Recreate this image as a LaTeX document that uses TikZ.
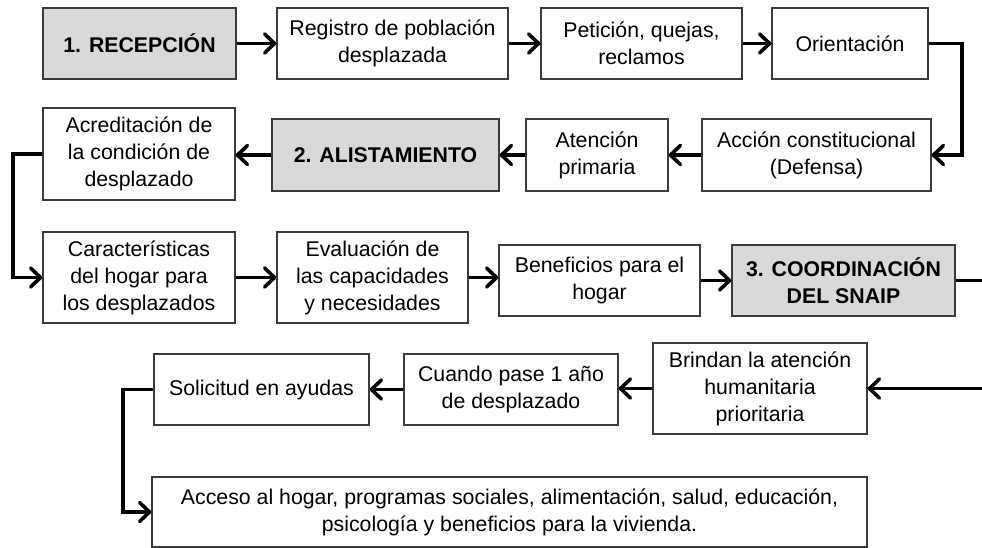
\documentclass[tikz,border=0pt]{standalone}
\usepackage{fontspec}
\setmainfont{Liberation Sans}
\usetikzlibrary{arrows.meta}
\definecolor{boxline}{HTML}{3A3A3A}
\definecolor{stagefill}{HTML}{D9D9D9}
\tikzset{
  box/.style={draw=boxline, line width=1.3pt, fill=white, align=center, inner sep=0pt,
    font=\fontsize{21.3}{27}\selectfont},
  stage/.style={box, fill=stagefill, font=\fontsize{21.3}{27}\selectfont\bfseries},
  conn/.style={line width=3.6pt, -{Straight Barb[length=10pt,width=19pt,line cap=round,line join=round]}},
  line/.style={line width=3.6pt}
}
\begin{document}
\begin{tikzpicture}[x=1pt,y=-1pt]
\useasboundingbox (0,0) rectangle (982,548);
% row 1
\node[stage, minimum width=193pt, minimum height=71pt] (rec) at (139.5,43.5) {1. RECEPCIÓN};
\node[box, minimum width=231pt, minimum height=71pt] (reg) at (392.5,43.5) {Registro de población\\desplazada};
\node[box, minimum width=201pt, minimum height=71pt] (pet) at (641.5,43.5) {Petición, quejas,\\reclamos};
\node[box, minimum width=156pt, minimum height=71pt] (ori) at (850,43.5) {Orientación};
% row 2
\node[box, minimum width=192pt, minimum height=92pt] (acr) at (139,154) {Acreditación de\\la condición de\\desplazado};
\node[stage, minimum width=227pt, minimum height=72pt] (ali) at (385.5,155) {2. ALISTAMIENTO};
\node[box, minimum width=142pt, minimum height=72pt] (ate) at (597,155) {Atención\\primaria};
\node[box, minimum width=229pt, minimum height=72pt] (acc) at (816.5,155) {Acción constitucional\\(Defensa)};
% row 3
\node[box, minimum width=192pt, minimum height=91pt] (car) at (139,277.5) {Características\\del hogar para\\los desplazados};
\node[box, minimum width=191pt, minimum height=91pt] (eva) at (372.5,277.5) {Evaluación de\\las capacidades\\y necesidades};
\node[box, minimum width=201pt, minimum height=71pt] (ben) at (599.5,280.5) {Beneficios para el\\hogar};
\node[stage, minimum width=223pt, minimum height=71pt] (coo) at (843.5,280.5) {3. COORDINACIÓN\\DEL SNAIP};
% row 4
\node[box, minimum width=214pt, minimum height=91pt] (bri) at (760,388.5) {Brindan la atención\\humanitaria\\prioritaria};
\node[box, minimum width=214pt, minimum height=71pt] (cua) at (511,389.5) {Cuando pase 1 año\\de desplazado};
\node[box, minimum width=215pt, minimum height=71pt] (sol) at (261.5,389.5) {Solicitud en ayudas};
% row 5
\node[box, minimum width=715pt, minimum height=70pt] (acs) at (509.5,512) {Acceso al hogar, programas sociales, alimentación, salud, educación,\\psicología y beneficios para la vivienda.};
% helper coordinates
\coordinate (c1) at (962,100);
\coordinate (c2) at (13,220);
\coordinate (c3) at (982,280.5);
\coordinate (c4) at (982,388.5);
\coordinate (c5) at (123,450);
% connectors
\draw[conn] (rec.east) -- (reg.west);
\draw[conn] (reg.east) -- (pet.west);
\draw[conn] (pet.east) -- (ori.west);
\draw[conn] (ori.east) -| (c1) |- (acc.east);
\draw[conn] (acc.west) -- (ate.east);
\draw[conn] (ate.west) -- (ali.east);
\draw[conn] (ali.west) -- (acr.east |- ali.west);
\draw[conn] (acr.west) -| (c2) |- (car.west);
\draw[conn] (car.east) -- (eva.west);
\draw[conn] (eva.east) -- (eva.east -| ben.west);
\draw[conn] (ben.east) -- (coo.west);
\draw[line] (coo.east) -- (c3);
\draw[conn] (c4) -- (bri.east);
\draw[conn] (bri.west) -- (bri.west -| cua.east);
\draw[conn] (cua.west) -- (sol.east);
\draw[conn] (sol.west) -| (c5) |- (acs.west);
\end{tikzpicture}
\end{document}
